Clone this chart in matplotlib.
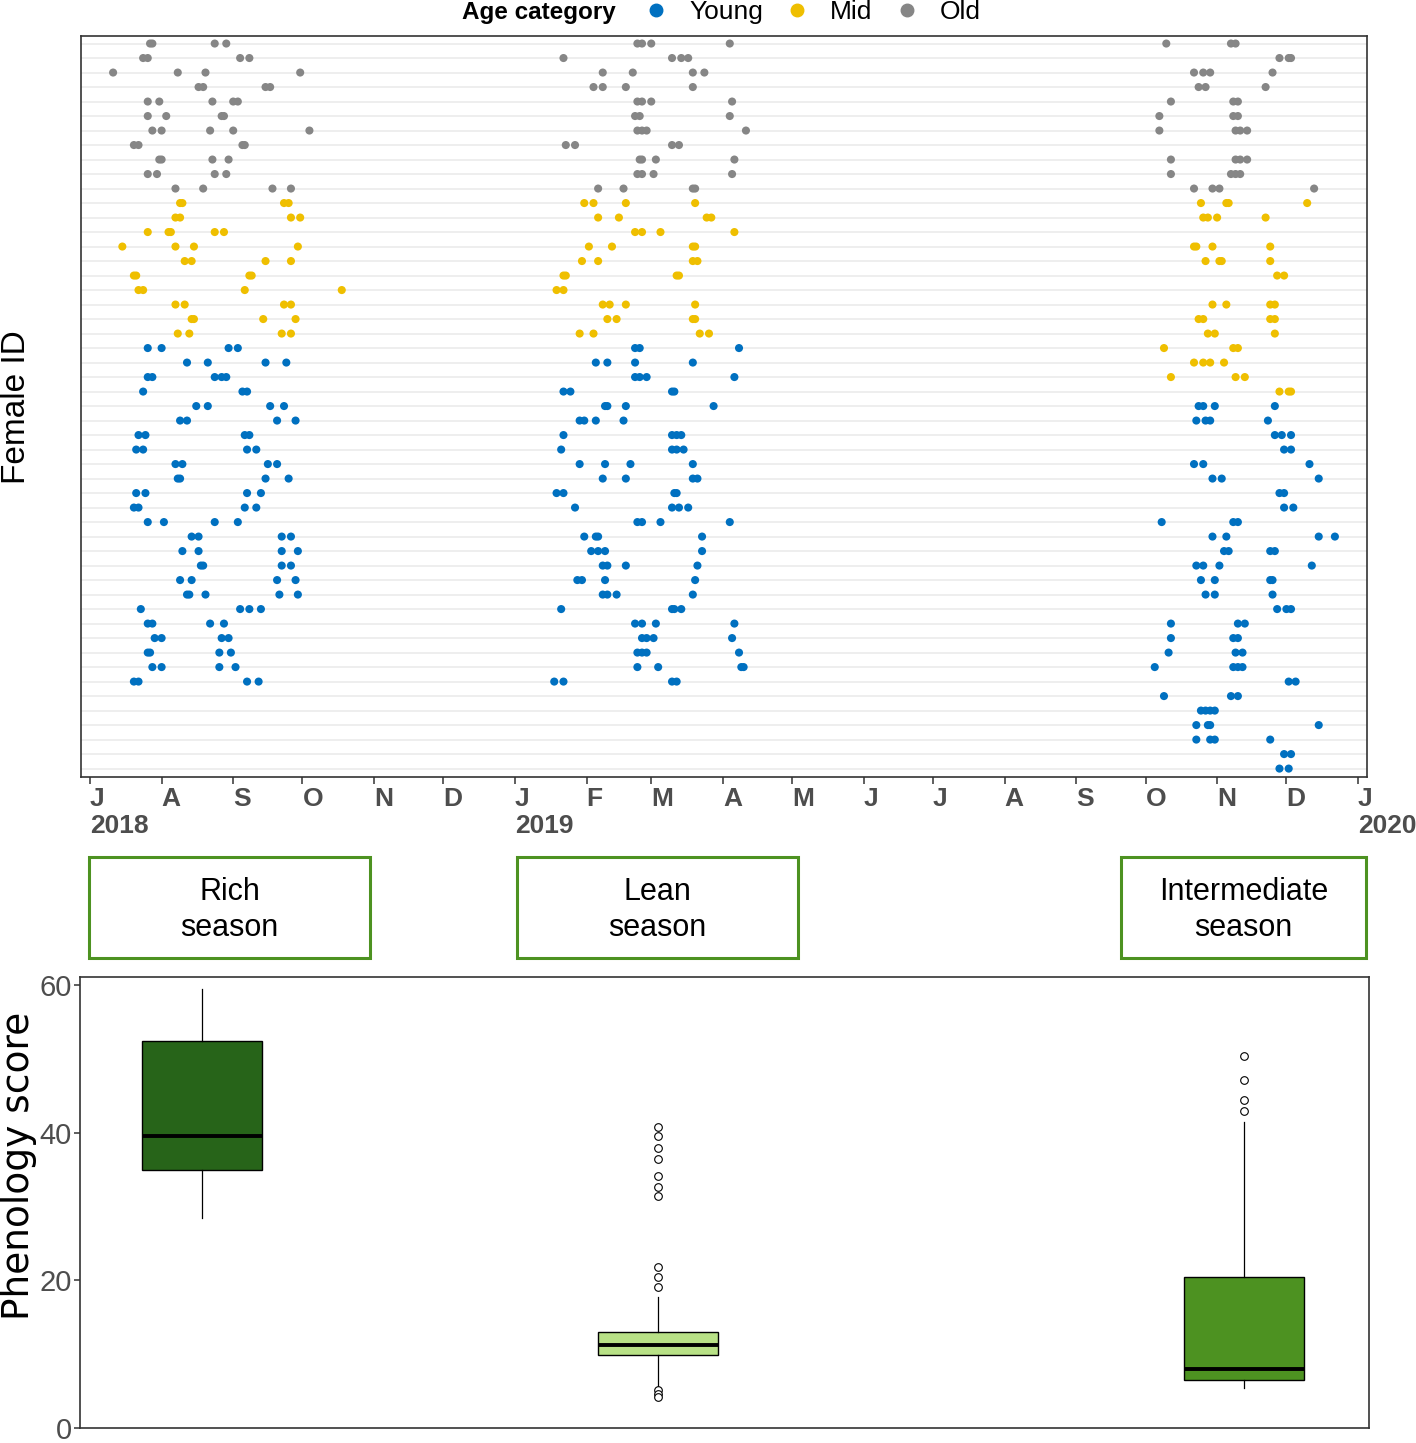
import numpy as np
import pandas as pd
import matplotlib
matplotlib.use("Agg")
import matplotlib.pyplot as plt
from matplotlib.lines import Line2D
from matplotlib.patches import Rectangle

plt.rcParams['font.family'] = ['Liberation Sans', 'DejaVu Sans']

# sampling days, counted from this date
base_date = pd.Timestamp('2018-07-01')

# one list per female (top row first), days since base_date
rich_days = [
    [26, 27, 54, 59], [23, 25, 65, 69], [10, 38, 50, 91], [47, 49, 76, 78],
    [25, 30, 53, 62, 64], [25, 33, 57, 58], [27, 31, 52, 62, 95], [19, 21, 66, 67],
    [30, 31, 53, 60], [25, 29, 54, 59], [37, 49, 79, 87], [39, 40, 84, 86],
    [37, 39, 87, 91], [25, 34, 35, 54, 58], [14, 37, 45, 90], [41, 44, 76, 87],
    [19, 20, 69, 70], [21, 23, 67, 109], [37, 41, 84, 87], [44, 45, 75, 89],
    [38, 43, 83, 87], [25, 31, 60, 64], [42, 51, 76, 85], [25, 27, 54, 57, 59],
    [23, 66, 68], [46, 51, 78, 84], [39, 42, 81, 89], [21, 24, 67, 69],
    [20, 23, 68, 72], [37, 40, 77, 81], [38, 39, 76, 86], [20, 24, 68, 74],
    [19, 21, 67, 72], [25, 32, 54, 64], [44, 47, 83, 87], [40, 47, 83, 90],
    [48, 49, 83, 87], [39, 44, 81, 89], [42, 43, 50, 82, 90], [22, 65, 69, 74],
    [25, 27, 52, 58], [28, 31, 57, 60], [25, 26, 56, 61], [27, 31, 56, 63],
    [19, 21, 68, 73], [], [], [], [], [], [],
]
lean_days = [
    [237, 239, 243, 277], [205, 252, 256, 259], [222, 235, 261, 266], [218, 222, 232, 261],
    [237, 239, 243, 278], [236, 238, 277], [237, 239, 241, 284], [206, 210, 252, 255],
    [238, 239, 245, 279], [237, 239, 244, 278], [220, 231, 261, 262], [214, 218, 232, 262],
    [220, 229, 267, 269], [236, 239, 247, 279], [216, 226, 261, 262], [213, 220, 261, 263],
    [205, 206, 254, 255], [202, 205], [222, 225, 232, 262], [224, 228, 261, 262],
    [212, 218, 264, 268], [236, 238, 281], [219, 224, 236, 261], [236, 238, 241, 279],
    [205, 208, 252, 253], [223, 224, 232, 270], [212, 214, 219, 231], [205, 252, 254, 256],
    [204, 252, 254, 257], [212, 223, 234, 261], [222, 232, 261, 263], [202, 205, 253, 254],
    [210, 252, 255, 259], [237, 239, 247, 277], [214, 219, 220, 265], [217, 220, 223, 265],
    [222, 224, 232, 263], [211, 213, 223, 262], [222, 224, 228, 261], [204, 252, 253, 256],
    [236, 239, 245, 279], [239, 241, 244, 278], [237, 239, 241, 281], [237, 246, 282, 283],
    [201, 205, 252, 254], [], [], [], [], [], [],
]
inter_days = [
    [466, 494, 496], [515, 519, 520], [478, 482, 485, 512], [480, 483, 509],
    [468, 495, 497], [463, 495, 497], [463, 496, 498, 501], [],
    [468, 496, 498, 501], [468, 494, 496, 498], [478, 486, 489, 530], [481, 492, 493, 527],
    [482, 484, 488, 509], [], [478, 479, 486, 511], [483, 489, 490, 511],
    [514, 517], [], [486, 492, 511, 513], [480, 482, 511, 513],
    [484, 487, 513], [465, 495, 497], [478, 482, 485, 491], [468, 496, 500],
    [515, 519, 520], [480, 482, 487, 513], [479, 483, 485, 510], [513, 516, 520],
    [517, 520], [478, 482, 528], [486, 490, 532], [515, 517],
    [517, 521], [464, 495, 497], [486, 492, 532, 539], [491, 493, 511, 513],
    [479, 482, 489, 529], [481, 487, 511, 512], [483, 487, 512], [514, 518, 520],
    [468, 497, 500], [468, 495, 497], [467, 496, 499], [461, 495, 497, 499],
    [519, 522], [465, 494, 497], [481, 483, 485, 487], [479, 484, 485, 532],
    [479, 485, 487, 511], [517, 520], [515, 519],
]

# age category of each female in each season
rich_age = ['Old'] * 11 + ['Mid'] * 10 + ['Young'] * 30
lean_age = ['Old'] * 11 + ['Mid'] * 10 + ['Young'] * 30
inter_age = ['Old'] * 11 + ['Mid'] * 14 + ['Young'] * 26

age_levels = ['Young', 'Mid', 'Old']
age_colors = {'Young': '#0070C0', 'Mid': '#EFBF00', 'Old': '#868686'}

# phenology score boxplots
season_labels = ['Rich\nseason', 'Lean\nseason', 'Intermediate\nseason']
season_fill = ['#276419', '#B8E186', '#4D9221']
box_q1 = [34.9, 9.9, 6.5]
box_med = [39.5, 11.2, 8.0]
box_q3 = [52.4, 13.0, 20.5]
box_lo = [28.4, 5.5, 5.4]
box_hi = [59.5, 17.7, 41.4]
box_fliers = [
    [],
    [40.8, 39.5, 38.0, 36.4, 34.1, 32.6, 31.4, 21.8, 20.4, 19.1, 5.1, 4.6, 4.2],
    [50.4, 47.2, 44.5, 43.0],
]

W, H = 1416, 1443
fig = plt.figure(figsize=(W / 100, H / 100), dpi=100)


def fig_rect(left, top, right, bottom):
    return [left / W, 1 - bottom / H, (right - left) / W, (bottom - top) / H]


# ---- top panel: sampling dates per female
ax = fig.add_axes(fig_rect(81, 36, 1367, 777))
n_rows = len(rich_days)
for r in range(n_rows):
    ax.axhline(r, color='#EBEBEB', lw=1.2, zorder=0)

for days, ages in [(rich_days, rich_age), (lean_days, lean_age), (inter_days, inter_age)]:
    for age in age_levels:
        xs, ys = [], []
        for r, row in enumerate(days):
            if ages[r] != age:
                continue
            xs += row
            ys += [r] * len(row)
        ax.scatter(xs, ys, s=34, color=age_colors[age], edgecolors='none', zorder=3)

ax.set_xlim(-3.9, 552.9)
ax.set_ylim(n_rows - 0.42, -0.52)
ax.set_yticks([])

months = pd.date_range('2018-07-01', '2020-01-01', freq='MS')
tick_pos = (months - base_date).days
tick_lab = []
for i, m in enumerate(months):
    lab = m.strftime('%b')[0]
    if i == 0 or m.month == 1:
        lab += '\n' + str(m.year)
    tick_lab.append(lab)
ax.set_xticks(tick_pos)
ax.set_xticklabels(tick_lab, fontsize=19, fontweight='bold', color='#4D4D4D')
for lbl in ax.get_xticklabels():
    lbl.set_ha('left')
    lbl.set_multialignment('left')
    lbl.set_linespacing(1.15)
ax.tick_params(axis='x', length=5, width=1.1, color='#333333', pad=2)
for sp in ax.spines.values():
    sp.set_color('#333333')
    sp.set_linewidth(1.2)

fig.text(17 / W, 1 - 407 / H, 'Female ID', rotation=90, fontsize=24,
         ha='center', va='center')

# legend on top
fig.text(616 / W, 1 - 12 / H, 'Age category', fontsize=17.5, fontweight='bold',
         ha='right', va='center')
handles = [Line2D([], [], ls='none', marker='o', ms=9, color=age_colors[a]) for a in age_levels]
fig.legend(handles, age_levels, loc='center left', bbox_to_anchor=(643 / W, 1 - 12 / H),
           ncol=3, frameon=False, fontsize=19, handlelength=1.0, handletextpad=0.75,
           columnspacing=0.8, borderpad=0, borderaxespad=0)

# ---- season label boxes
label_boxes = [(89, 370), (517, 798), (1121, 1366)]
for (x0, x1), lab in zip(label_boxes, season_labels):
    fig.add_artist(Rectangle((x0 / W, 1 - 958 / H), (x1 - x0) / W, 101 / H,
                             transform=fig.transFigure, fill=False,
                             edgecolor='#4D9221', lw=2.2))
    fig.text((x0 + x1) / 2 / W, 1 - 910 / H, lab, fontsize=22, ha='center',
             va='center', linespacing=1.28)

# ---- bottom panel: phenology score
ax2 = fig.add_axes(fig_rect(80, 977, 1369, 1428))
box_pos = [48.5, 246.2, 500.2]
stats = []
for i in range(3):
    stats.append(dict(q1=box_q1[i], med=box_med[i], q3=box_q3[i],
                      whislo=box_lo[i], whishi=box_hi[i], fliers=box_fliers[i]))
bp = ax2.bxp(stats, positions=box_pos, widths=52, patch_artist=True,
             showcaps=False,
             boxprops=dict(edgecolor='black', linewidth=1.0),
             medianprops=dict(color='black', linewidth=2.8),
             whiskerprops=dict(color='black', linewidth=0.9),
             flierprops=dict(marker='o', markerfacecolor='white', markeredgecolor='black',
                             markersize=5.5, markeredgewidth=0.8))
for patch, c in zip(bp['boxes'], season_fill):
    patch.set_facecolor(c)

ax2.set_xlim(-4.3, 554.3)
ax2.set_ylim(0, 61.1)
ax2.set_xticks([])
ax2.set_yticks([0, 20, 40, 60])
ax2.tick_params(axis='y', labelsize=21, labelcolor='#4D4D4D', length=4, width=1.1,
                color='#333333', pad=2)
for sp in ax2.spines.values():
    sp.set_color('#333333')
    sp.set_linewidth(1.2)
fig.text(19 / W, 1 - 1166 / H, 'Phenology score', rotation=90, fontsize=27,
         family='DejaVu Sans', ha='center', va='center')

fig.savefig('out.png', dpi=100)
